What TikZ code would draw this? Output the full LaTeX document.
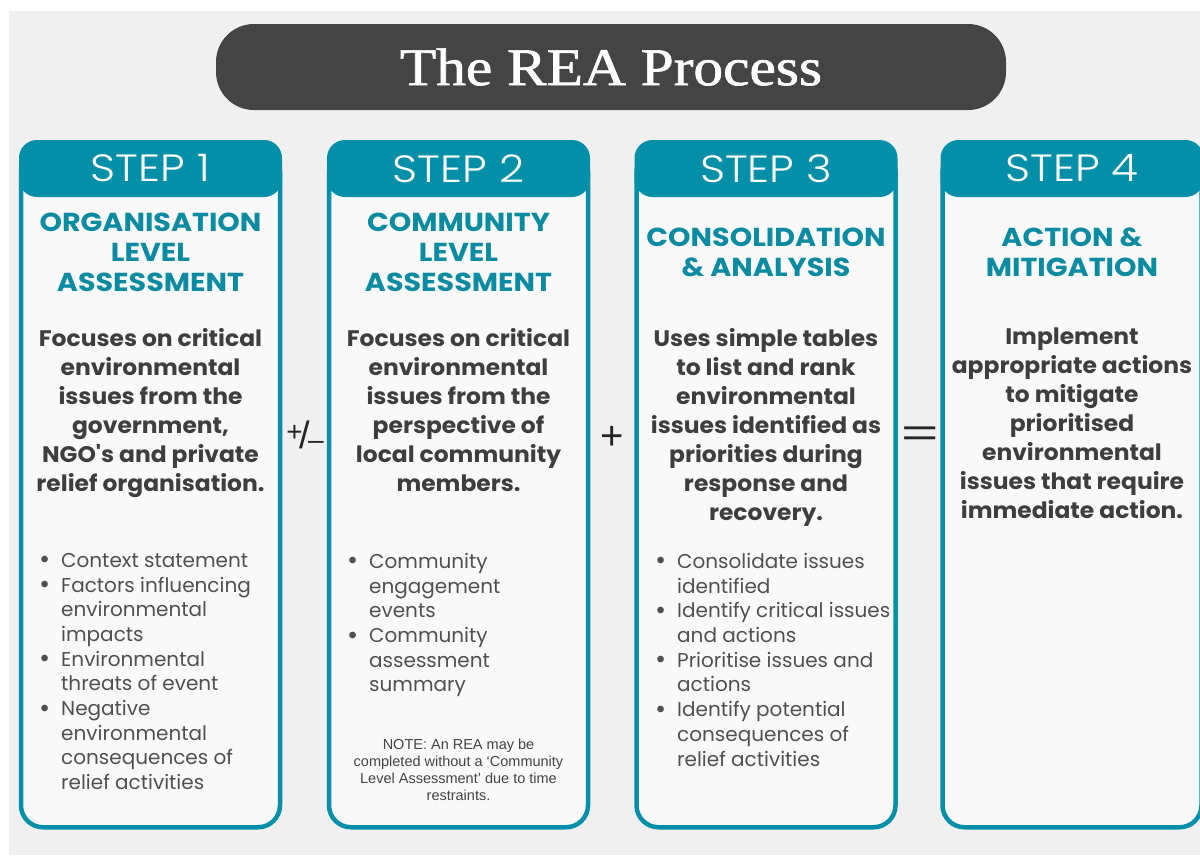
\documentclass[tikz,border=0pt]{standalone}
\usepackage{fontspec}
\usepackage{graphicx}
\setmainfont{Poppins}
\newfontfamily\titlefont[FakeBold=1.2]{Liberation Serif}
\newfontfamily\notefont{Liberation Sans}
\newfontfamily\headfont[FakeStretch=1.1]{Poppins}
\newfontfamily\sumfont[FakeStretch=1.04]{Poppins}
\newfontfamily\stepfont[FakeStretch=1.15]{Poppins Light}
\usetikzlibrary{positioning}

\definecolor{reateal}{HTML}{048FA9}
\definecolor{headteal}{HTML}{0B8BA1}
\definecolor{panelgray}{HTML}{F0F0F0}
\definecolor{titlegray}{HTML}{444444}
\definecolor{cardfill}{HTML}{F9F9F9}
\definecolor{bodytext}{HTML}{3E3E3E}
\definecolor{listtext}{HTML}{505050}

% bullet and hanging indent for the lists
\newcommand{\bitem}{\makebox[22pt][l]{\raisebox{-1.5pt}{\fontsize{27}{0}\selectfont\textbullet}}}
\newcommand{\bpad}{\hspace*{22pt}}

\begin{document}
\begin{tikzpicture}[
    x=1pt, y=-1pt,
    titlebar/.style={fill=titlegray, rounded corners=38pt, minimum width=790pt, minimum height=86pt, inner sep=0pt, text=white, font=\titlefont\fontsize{53}{56}\selectfont},
    card/.style={draw=reateal, line width=4.5pt, fill=cardfill, rounded corners=22pt, minimum width=259pt, minimum height=677pt, inner sep=0pt, outer sep=0pt},
    stephead/.style={fill=reateal, rounded corners=18pt, minimum width=263pt, minimum height=57pt, inner sep=0pt, text=white, font=\stepfont\fontsize{38}{40}\selectfont},
    heading/.style={text=headteal, font=\headfont\fontsize{26}{30}\bfseries\selectfont, align=center, inner sep=0pt},
    summary/.style={text=bodytext, font=\sumfont\fontsize{22.5}{29}\bfseries\selectfont, align=center, inner sep=0pt, anchor=north},
    bullets/.style={text=listtext, font=\fontsize{20}{24.7}\selectfont, align=left, inner sep=0pt, anchor=north west},
    note/.style={text=titlegray, font=\notefont\fontsize{14.5}{17}\selectfont, align=center, inner sep=0pt},
    op/.style={text=black!85, font=\notefont\fontsize{40}{40}\selectfont, inner sep=0pt}
]

\useasboundingbox (0,0) rectangle (1200,855);
\fill[white] (0,0) rectangle (1200,855);
\fill[panelgray] (9,11) rectangle (1200,855);

\node[titlebar] (title) at (611,67) {\scalebox{1.12}[1]{The REA Process}};

% card bodies, then the headers on top
\node[card] (card1) at (150.5,488.75) {};
\node[card] (card2) at (458.5,488.75) {};
\node[card] (card3) at (766,488.75) {};
\node[card] (card4) at (1072,488.75) {};

\node[stephead] (head1) at (150.5,168.5) {STEP 1};
\node[stephead] (head2) at (458.5,168.5) {STEP 2};
\node[stephead] (head3) at (766,168.5) {STEP 3};
\node[stephead] (head4) at (1072,168.5) {STEP 4};

\node[heading] (title1) at (150.5,252) {ORGANISATION\\LEVEL\\ASSESSMENT};
\node[heading] (title2) at (458.5,252) {COMMUNITY\\LEVEL\\ASSESSMENT};
\node[heading] (title3) at (766,252) {CONSOLIDATION\\\& ANALYSIS};
\node[heading] (title4) at (1072,252) {ACTION \&\\MITIGATION};

\node[summary] (sum1) at (150.5,328) {Focuses on critical\\environmental\\issues from the\\government,\\NGO's and private\\relief organisation.};
\node[summary] (sum2) at (458.5,328) {Focuses on critical\\environmental\\issues from the\\perspective of\\local community\\members.};
\node[summary] (sum3) at (766,328) {Uses simple tables\\to list and rank\\environmental\\issues identified as\\priorities during\\response and\\recovery.};
\node[summary] (sum4) at (1072,328) {Implement\\appropriate actions\\to mitigate\\prioritised\\environmental\\issues that require\\immediate action.};

\node[bullets] (list1) at (39,553) {\bitem Context statement\\\bitem Factors influencing\\\bpad environmental\\\bpad impacts\\\bitem Environmental\\\bpad threats of event\\\bitem Negative\\\bpad environmental\\\bpad consequences of\\\bpad relief activities};
\node[bullets] (list2) at (347,553) {\bitem Community\\\bpad engagement\\\bpad events\\\bitem Community\\\bpad assessment\\\bpad summary};
\node[bullets] (list3) at (655,553) {\bitem Consolidate issues\\\bpad identified\\\bitem Identify critical issues\\\bpad and actions\\\bitem Prioritise issues and\\\bpad actions\\\bitem Identify potential\\\bpad consequences of\\\bpad relief activities};

\node[note] (note2) at (458.5,770) {NOTE: An REA may be\\completed without a ‘Community\\Level Assessment’ due to time\\restraints.};

% operators between the steps
\node[op] (pm) at (305,435) {\fontsize{28}{28}\selectfont\raisebox{7pt}{+}\kern-3pt{\fontsize{38}{38}\selectfont /}\kern-2pt\raisebox{-1pt}{–}};
\node[op] (plus) at (612,438) {+};
\node[op] (equals) at (920,437) {\scalebox{1.6}[1]{=}};

\end{tikzpicture}
\end{document}
